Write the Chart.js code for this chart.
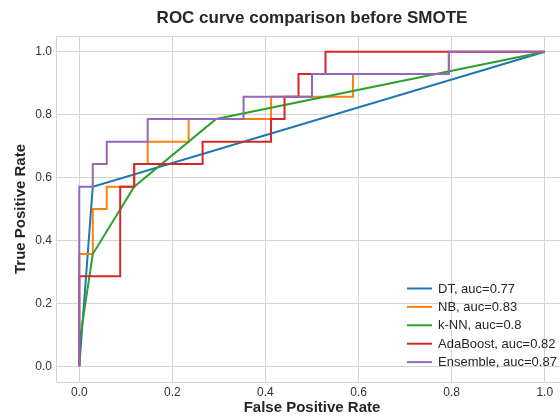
<!DOCTYPE html>
<html>
<head>
<meta charset="utf-8">
<script src="https://cdn.jsdelivr.net/npm/chart.js@4.4.0/dist/chart.umd.min.js"></script>
<style>
  html, body { margin: 0; padding: 0; background: #fff; overflow: hidden; }
  #wrap { width: 624px; height: 417px; }
</style>
</head>
<body>
<div id="wrap"><canvas id="rocChart"></canvas></div>
<script>
// ROC points (FPR / TPR)
let dtFpr = [0, 0.029, 1];
let dtTpr = [0, 0.571, 1];

let nbFpr = [0, 0, 0.029, 0.029, 0.059, 0.059, 0.118, 0.118, 0.147, 0.147, 0.235, 0.235, 0.412, 0.412, 0.588, 0.588, 0.794, 0.794, 1];
let nbTpr = [0, 0.357, 0.357, 0.5, 0.5, 0.571, 0.571, 0.643, 0.643, 0.714, 0.714, 0.786, 0.786, 0.857, 0.857, 0.929, 0.929, 1, 1];

let knnFpr = [0, 0, 0.029, 0.118, 0.294, 1];
let knnTpr = [0, 0.071, 0.357, 0.571, 0.786, 1];

let adaFpr = [0, 0, 0.088, 0.088, 0.118, 0.118, 0.265, 0.265, 0.412, 0.412, 0.441, 0.441, 0.471, 0.471, 0.529, 0.529, 1];
let adaTpr = [0, 0.286, 0.286, 0.571, 0.571, 0.643, 0.643, 0.714, 0.714, 0.786, 0.786, 0.857, 0.857, 0.929, 0.929, 1, 1];

let ensFpr = [0, 0, 0.029, 0.029, 0.059, 0.059, 0.147, 0.147, 0.353, 0.353, 0.5, 0.5, 0.794, 0.794, 1];
let ensTpr = [0, 0.571, 0.571, 0.643, 0.643, 0.714, 0.714, 0.786, 0.786, 0.857, 0.857, 0.929, 0.929, 1, 1];

let labels = ['DT, auc=0.77', 'NB, auc=0.83', 'k-NN, auc=0.8', 'AdaBoost, auc=0.82', 'Ensemble, auc=0.87'];
let colors = ['#1f77b4', '#ff7f0e', '#2ca02c', '#d62728', '#9467bd'];
let tickValues = [0, 0.2, 0.4, 0.6, 0.8, 1.0];
let chartTitle = 'ROC curve comparison before SMOTE';

function toPoints(xs, ys) {
    return xs.map((x, i) => ({ x: x, y: ys[i] }));
}

let series = [[dtFpr, dtTpr], [nbFpr, nbTpr], [knnFpr, knnTpr], [adaFpr, adaTpr], [ensFpr, ensTpr]];

let datasets = series.map((s, i) => ({
    label: labels[i],
    data: toPoints(s[0], s[1]),
    borderColor: colors[i],
    backgroundColor: colors[i],
    borderWidth: 2,
    pointRadius: 0,
    showLine: true,
    fill: false,
    tension: 0,
    order: 5 - i   // later series drawn on top
}));

const gridColor = '#d4d4d4';
const textColor = '#262626';
const fontFamily = '"Liberation Sans", Arial, sans-serif';

// frame round the plot area
const framePlugin = {
    id: 'frame',
    beforeDatasetsDraw(chart) {
        const a = chart.chartArea, ctx = chart.ctx;
        ctx.save();
        ctx.strokeStyle = gridColor;
        ctx.lineWidth = 1;
        ctx.strokeRect(Math.round(a.left) + 0.5, Math.round(a.top) + 0.5,
            Math.round(a.right - a.left), Math.round(a.bottom - a.top));
        ctx.restore();
    }
};

// title centred over the plot area, legend inside the lower right
const extrasPlugin = {
    id: 'extras',
    afterDraw(chart) {
        const a = chart.chartArea, ctx = chart.ctx;
        ctx.save();
        ctx.fillStyle = textColor;
        ctx.font = 'bold 17px ' + fontFamily;
        ctx.textAlign = 'center';
        ctx.textBaseline = 'middle';
        ctx.fillText(chartTitle, (a.left + a.right) / 2, 18);

        ctx.font = '13px ' + fontFamily;
        ctx.textAlign = 'left';
        labels.forEach((lab, i) => {
            const y = 288.5 + i * 18.4;
            ctx.strokeStyle = colors[i];
            ctx.lineWidth = 2;
            ctx.beginPath();
            ctx.moveTo(407, y);
            ctx.lineTo(432, y);
            ctx.stroke();
            ctx.fillStyle = textColor;
            ctx.fillText(lab, 438, y + 0.5);
        });
        ctx.restore();
    }
};

let ctx = document.getElementById('rocChart').getContext('2d');

let chart = new Chart(ctx, {
    type: 'scatter',
    data: { datasets: datasets },
    plugins: [framePlugin, extrasPlugin],
    options: {
        responsive: true,
        maintainAspectRatio: false,
        animation: false,
        layout: { padding: { top: 36, right: 56, left: 0, bottom: 0 } },
        plugins: {
            legend: { display: false },
            tooltip: { enabled: false },
            title: { display: false }
        },
        scales: {
            x: {
                type: 'linear',
                min: -0.05,
                max: 1.05,
                afterBuildTicks: s => { s.ticks = tickValues.map(v => ({ value: v })); },
                afterFit: s => { s.height = 35; },
                grid: { color: gridColor, drawTicks: false },
                border: { display: false },
                ticks: {
                    padding: 3,
                    color: '#333',
                    font: { family: fontFamily, size: 12 },
                    callback: v => v.toFixed(1)
                },
                title: {
                    display: true,
                    text: 'False Positive Rate',
                    color: textColor,
                    font: { family: fontFamily, size: 15, weight: 'bold' },
                    padding: { top: 0, bottom: 0 }
                }
            },
            y: {
                type: 'linear',
                min: -0.05,
                max: 1.05,
                afterBuildTicks: s => { s.ticks = tickValues.map(v => ({ value: v })); },
                afterFit: s => { s.width = 56; },
                grid: { color: gridColor, drawTicks: false },
                border: { display: false },
                ticks: {
                    padding: 4,
                    color: '#333',
                    font: { family: fontFamily, size: 12 },
                    callback: v => v.toFixed(1)
                },
                title: {
                    display: true,
                    text: 'True Positive Rate',
                    color: textColor,
                    font: { family: fontFamily, size: 15, weight: 'bold' },
                    padding: { top: 12, bottom: 0 }
                }
            }
        }
    }
});
</script>
</body>
</html>
